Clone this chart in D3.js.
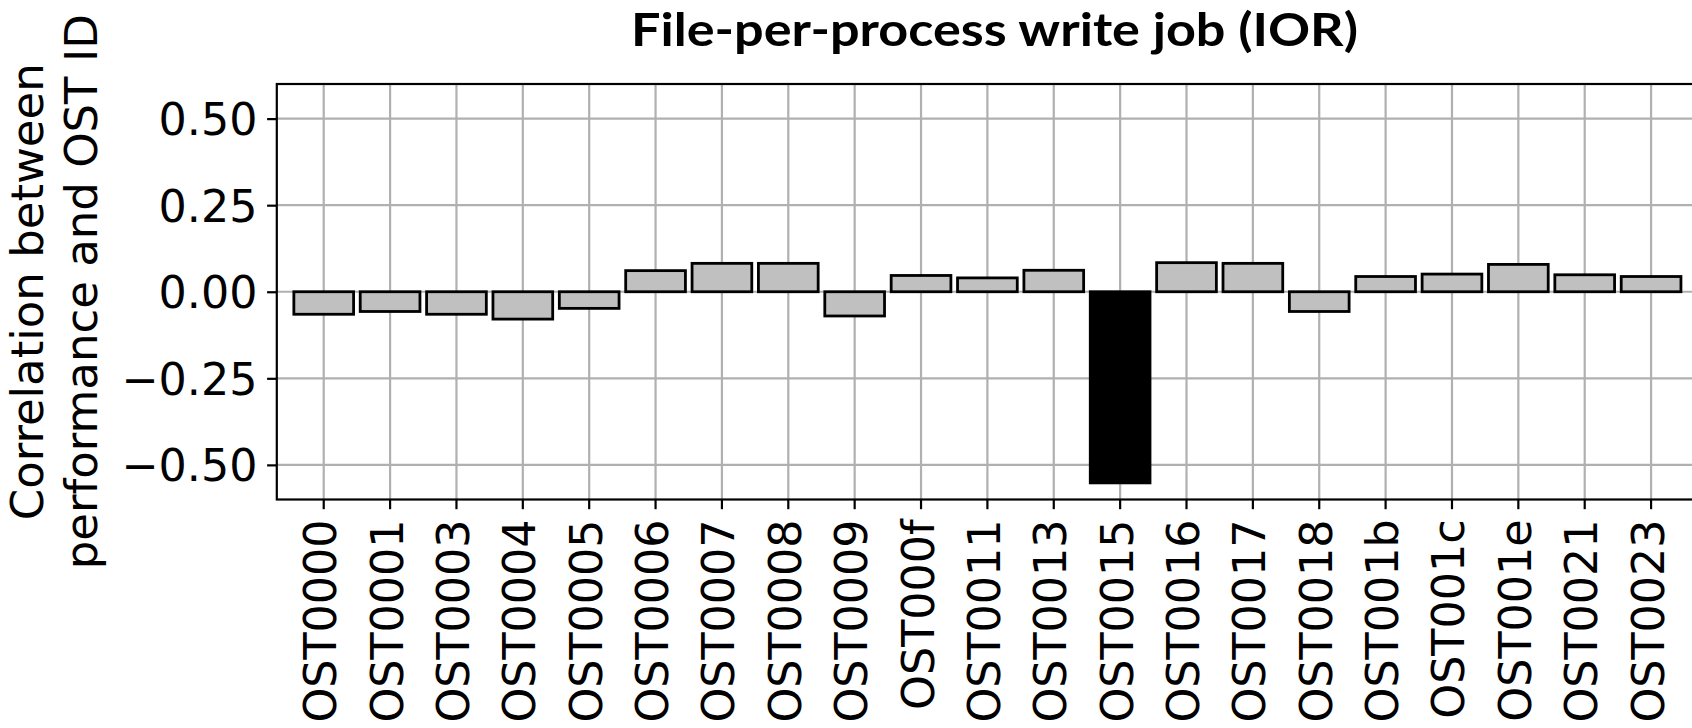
<!DOCTYPE html>
<html>
<head>
<meta charset="utf-8">
<script src="https://cdn.jsdelivr.net/npm/d3@7"></script>
<style>
  html, body { margin: 0; padding: 0; background: #ffffff; overflow: hidden; }
  svg { display: block; }
</style>
</head>
<body>
<svg id="chart" width="1692" height="728"></svg>
<script>
// Per-OST correlation between job performance and OST usage
const categories = ["OST0000","OST0001","OST0003","OST0004","OST0005","OST0006","OST0007",
  "OST0008","OST0009","OST000f","OST0011","OST0013","OST0015","OST0016","OST0017",
  "OST0018","OST001b","OST001c","OST001e","OST0021","OST0023"];
const values = [-0.065,-0.057,-0.065,-0.079,-0.048,0.061,0.082,
  0.082,-0.070,0.047,0.040,0.062,-0.552,0.084,0.082,
  -0.057,0.044,0.051,0.079,0.049,0.044];
const highlighted = ["OST0015"];
const yTicks = [-0.5, -0.25, 0, 0.25, 0.5];
const yDomain = [-0.6, 0.6];
const titleText = "File-per-process write job (IOR)";
const yLabelLines = ["Correlation between", "performance and OST ID"];

const data = categories.map((c, i) => ({ cat: c, val: values[i] }));

const svg = d3.select("#chart");
const plot = { left: 276.8, right: 1698, top: 84, bottom: 499.5 };
const tickLen = 9.7, tickPad = 9.7;
const font = "'DejaVu Sans', sans-serif";
const fontSize = 44.4;

const x = d3.scaleBand()
  .domain(categories)
  .range([plot.left, plot.right])
  .paddingInner(0.1)
  .paddingOuter(0.257);
const y = d3.scaleLinear().domain(yDomain).range([plot.bottom, plot.top]);
const cx = d => x(d) + x.bandwidth() / 2;

// grid
const grid = svg.append("g").attr("stroke", "#b0b0b0").attr("stroke-width", 2.2);
grid.selectAll("line.v").data(categories).join("line")
  .attr("x1", cx).attr("x2", cx)
  .attr("y1", plot.top).attr("y2", plot.bottom);
grid.selectAll("line.h").data(yTicks).join("line")
  .attr("x1", plot.left).attr("x2", plot.right)
  .attr("y1", d => y(d)).attr("y2", d => y(d));

// bars
svg.append("g").selectAll("rect").data(data).join("rect")
  .attr("x", d => x(d.cat))
  .attr("width", x.bandwidth())
  .attr("y", d => y(Math.max(0, d.val)))
  .attr("height", d => Math.abs(y(d.val) - y(0)))
  .attr("fill", d => highlighted.includes(d.cat) ? "#000000" : "#c0c0c0")
  .attr("stroke", "#000000")
  .attr("stroke-width", 2.8);

// spines
svg.append("rect")
  .attr("x", plot.left).attr("y", plot.top)
  .attr("width", plot.right - plot.left).attr("height", plot.bottom - plot.top)
  .attr("fill", "none").attr("stroke", "#000000").attr("stroke-width", 2.2);

// y axis
const yAxis = svg.append("g")
  .attr("transform", `translate(${plot.left},0)`)
  .call(d3.axisLeft(y).tickValues(yTicks).tickFormat(d3.format(".2f"))
    .tickSize(tickLen).tickPadding(tickPad).tickSizeOuter(0));
yAxis.select(".domain").remove();
yAxis.selectAll(".tick line").attr("stroke", "#000").attr("stroke-width", 2.2);
yAxis.selectAll(".tick text")
  .attr("font-family", font).attr("font-size", fontSize).attr("fill", "#000")
  .attr("dy", "0.36em");

// x axis
const xAxis = svg.append("g")
  .attr("transform", `translate(0,${plot.bottom})`)
  .call(d3.axisBottom(x).tickSize(tickLen).tickSizeOuter(0));
xAxis.select(".domain").remove();
xAxis.selectAll(".tick line").attr("stroke", "#000").attr("stroke-width", 2.2);
xAxis.selectAll(".tick text")
  .attr("font-family", font).attr("font-size", fontSize).attr("fill", "#000")
  .attr("transform", "rotate(-90)")
  .attr("text-anchor", "end")
  .attr("x", -(tickLen + tickPad + 0.5))
  .attr("y", 12.5)
  .attr("dy", null);

// y axis label
const yl = svg.append("text")
  .attr("transform", `translate(0,${(plot.top + plot.bottom) / 2}) rotate(-90)`)
  .attr("text-anchor", "middle")
  .attr("font-family", font).attr("font-size", 45).attr("fill", "#000");
yl.selectAll("tspan").data(yLabelLines).join("tspan")
  .attr("x", 0)
  .attr("y", (d, i) => 43 + i * 54)
  .text(d => d);

// title
svg.append("text")
  .attr("x", 631).attr("y", 46)
  .attr("font-family", "Lato, 'Open Sans', sans-serif")
  .attr("font-weight", "bold")
  .attr("font-size", 45)
  .attr("textLength", 727)
  .attr("lengthAdjust", "spacingAndGlyphs")
  .attr("fill", "#000")
  .text(titleText);
</script>
</body>
</html>
